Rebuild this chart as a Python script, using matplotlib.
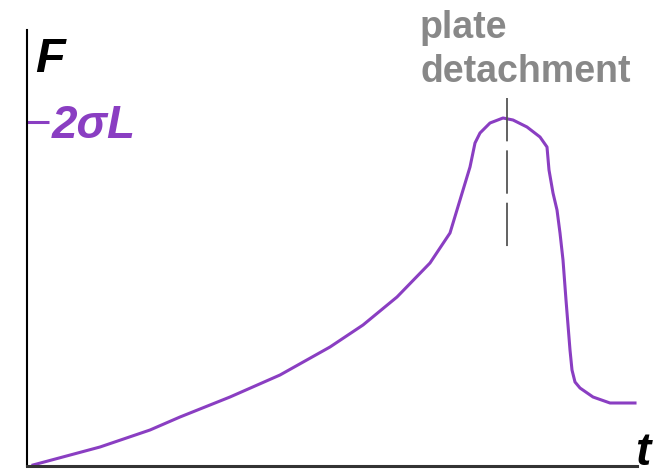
import matplotlib
matplotlib.use('Agg')
import matplotlib.pyplot as plt

# force curve, arbitrary units (time, force)
t = [6, 73, 123, 153, 203, 253, 303, 336, 370, 403, 423, 433, 443, 448, 453,
     463, 476, 486, 500, 513, 520, 522, 526, 530, 533, 536, 539, 543, 545,
     548, 553, 566, 583, 608]
F = [1, 19, 36, 49, 69, 91, 119, 141, 169, 203, 233, 266, 299, 323, 333,
     343, 348, 346, 339, 329, 319, 296, 273, 256, 233, 206, 166, 116, 96,
     84, 78, 69, 63, 63]

t_detach = 480
F_max = 344
purple = '#8a3ec2'

plt.rcParams['font.family'] = ['Liberation Sans', 'DejaVu Sans']

fig = plt.figure(figsize=(6.6, 4.74), dpi=100)
ax = fig.add_axes([27 / 660, 8 / 474, 610 / 660, 436 / 474])
ax.set_xlim(0, 610)
ax.set_ylim(0, 436)

ax.plot(t, F, color=purple, lw=2.2, solid_joinstyle='round')

# plate detachment marker
ln, = ax.plot([t_detach, t_detach], [368, 214], color='#555555', lw=1.3)
ln.set_dashes((24, 5))

ax.spines['top'].set_visible(False)
ax.spines['right'].set_visible(False)
ax.spines['left'].set_linewidth(1.5)
ax.spines['bottom'].set_linewidth(2.2)
ax.spines['bottom'].set_color('#333333')
ax.set_xticks([])
ax.set_yticks([F_max])
ax.tick_params(axis='y', direction='in', length=16, width=2.2, color=purple,
               labelleft=False)

ax.text(8, 394, 'F', fontsize=35, fontweight='bold', fontstyle='italic',
        va='baseline', ha='left')
ax.text(25, 328, '2σL', fontsize=33, fontweight='bold', fontstyle='italic',
        color=purple, va='baseline', ha='left')
ax.text(608, 1, 't', fontsize=33, fontweight='bold', fontstyle='italic',
        va='baseline', ha='left', clip_on=False)
ax.text(393, 428, 'plate', fontsize=27, fontweight='bold', color='#888888',
        va='baseline', ha='left', clip_on=False)
ax.text(393, 384, 'detachment', fontsize=27, fontweight='bold', color='#888888',
        va='baseline', ha='left', clip_on=False)

fig.savefig('out.png', dpi=100)
